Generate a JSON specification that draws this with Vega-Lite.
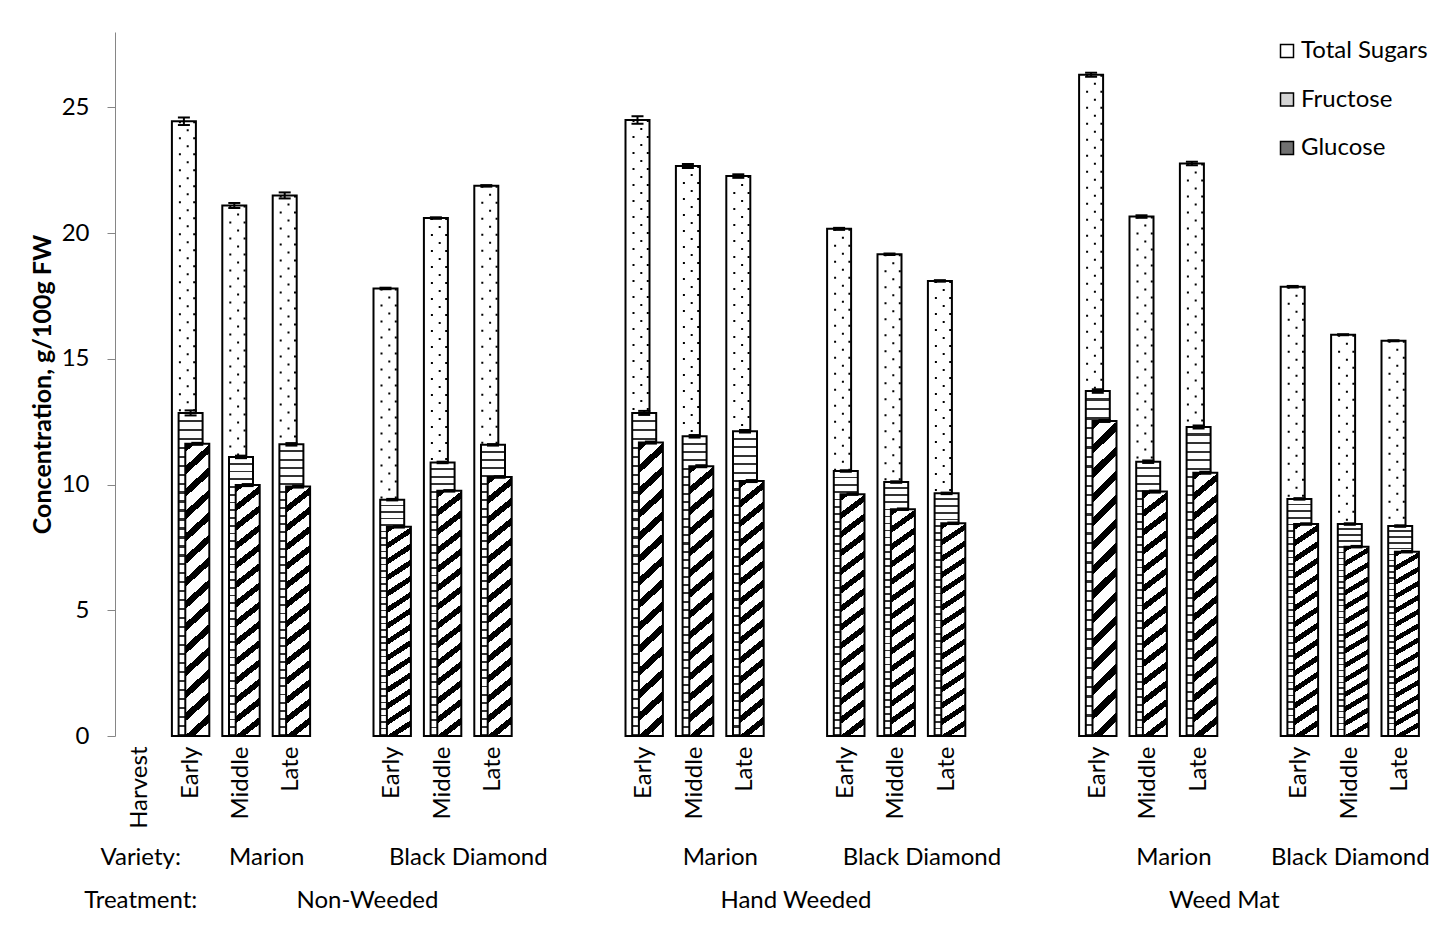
{
"$schema": "https://vega.github.io/schema/vega-lite/v6.json",
"autosize": {"type": "none"},
"width": 1310.4,
"height": 704,
"padding": {"left": 115, "top": 32, "right": 30.6, "bottom": 216},
"background": "#ffffff",
"config": {
  "view": {"stroke": null},
  "font": "Lato",
  "axis": {"labelFont": "Lato", "titleFont": "Lato", "labelColor": "#000000", "titleColor": "#000000"},
  "legend": {"labelFont": "Lato"}
},
"data": {"values": [
{"cat":"Non-Weeded|Marion|Early","series":"Total Sugars","value":24.45,"lo":24.3,"hi":24.6},
{"cat":"Non-Weeded|Marion|Early","series":"Fructose","value":12.85,"lo":12.75,"hi":12.95},
{"cat":"Non-Weeded|Marion|Early","series":"Glucose","value":11.62,"lo":11.58,"hi":11.66},
{"cat":"Non-Weeded|Marion|Middle","series":"Total Sugars","value":21.1,"lo":21.0,"hi":21.2},
{"cat":"Non-Weeded|Marion|Middle","series":"Fructose","value":11.1,"lo":11.05,"hi":11.15},
{"cat":"Non-Weeded|Marion|Middle","series":"Glucose","value":9.98,"lo":9.94,"hi":10.02},
{"cat":"Non-Weeded|Marion|Late","series":"Total Sugars","value":21.5,"lo":21.38,"hi":21.62},
{"cat":"Non-Weeded|Marion|Late","series":"Fructose","value":11.6,"lo":11.55,"hi":11.65},
{"cat":"Non-Weeded|Marion|Late","series":"Glucose","value":9.92,"lo":9.88,"hi":9.96},
{"cat":"Non-Weeded|Black Diamond|Early","series":"Total Sugars","value":17.8,"lo":17.77,"hi":17.83},
{"cat":"Non-Weeded|Black Diamond|Early","series":"Fructose","value":9.4,"lo":9.37,"hi":9.43},
{"cat":"Non-Weeded|Black Diamond|Early","series":"Glucose","value":8.32,"lo":8.29,"hi":8.35},
{"cat":"Non-Weeded|Black Diamond|Middle","series":"Total Sugars","value":20.6,"lo":20.57,"hi":20.63},
{"cat":"Non-Weeded|Black Diamond|Middle","series":"Fructose","value":10.88,"lo":10.85,"hi":10.91},
{"cat":"Non-Weeded|Black Diamond|Middle","series":"Glucose","value":9.75,"lo":9.72,"hi":9.78},
{"cat":"Non-Weeded|Black Diamond|Late","series":"Total Sugars","value":21.88,"lo":21.85,"hi":21.91},
{"cat":"Non-Weeded|Black Diamond|Late","series":"Fructose","value":11.58,"lo":11.55,"hi":11.61},
{"cat":"Non-Weeded|Black Diamond|Late","series":"Glucose","value":10.3,"lo":10.27,"hi":10.33},
{"cat":"Hand Weeded|Marion|Early","series":"Total Sugars","value":24.5,"lo":24.35,"hi":24.65},
{"cat":"Hand Weeded|Marion|Early","series":"Fructose","value":12.85,"lo":12.77,"hi":12.93},
{"cat":"Hand Weeded|Marion|Early","series":"Glucose","value":11.67,"lo":11.63,"hi":11.71},
{"cat":"Hand Weeded|Marion|Middle","series":"Total Sugars","value":22.67,"lo":22.59,"hi":22.75},
{"cat":"Hand Weeded|Marion|Middle","series":"Fructose","value":11.92,"lo":11.87,"hi":11.97},
{"cat":"Hand Weeded|Marion|Middle","series":"Glucose","value":10.73,"lo":10.69,"hi":10.77},
{"cat":"Hand Weeded|Marion|Late","series":"Total Sugars","value":22.27,"lo":22.2,"hi":22.34},
{"cat":"Hand Weeded|Marion|Late","series":"Fructose","value":12.12,"lo":12.07,"hi":12.17},
{"cat":"Hand Weeded|Marion|Late","series":"Glucose","value":10.14,"lo":10.1,"hi":10.18},
{"cat":"Hand Weeded|Black Diamond|Early","series":"Total Sugars","value":20.17,"lo":20.13,"hi":20.21},
{"cat":"Hand Weeded|Black Diamond|Early","series":"Fructose","value":10.54,"lo":10.51,"hi":10.57},
{"cat":"Hand Weeded|Black Diamond|Early","series":"Glucose","value":9.62,"lo":9.59,"hi":9.65},
{"cat":"Hand Weeded|Black Diamond|Middle","series":"Total Sugars","value":19.16,"lo":19.13,"hi":19.19},
{"cat":"Hand Weeded|Black Diamond|Middle","series":"Fructose","value":10.1,"lo":10.07,"hi":10.13},
{"cat":"Hand Weeded|Black Diamond|Middle","series":"Glucose","value":9.02,"lo":8.99,"hi":9.05},
{"cat":"Hand Weeded|Black Diamond|Late","series":"Total Sugars","value":18.1,"lo":18.07,"hi":18.13},
{"cat":"Hand Weeded|Black Diamond|Late","series":"Fructose","value":9.65,"lo":9.62,"hi":9.68},
{"cat":"Hand Weeded|Black Diamond|Late","series":"Glucose","value":8.46,"lo":8.43,"hi":8.49},
{"cat":"Weed Mat|Marion|Early","series":"Total Sugars","value":26.3,"lo":26.22,"hi":26.38},
{"cat":"Weed Mat|Marion|Early","series":"Fructose","value":13.72,"lo":13.65,"hi":13.79},
{"cat":"Weed Mat|Marion|Early","series":"Glucose","value":12.53,"lo":12.49,"hi":12.57},
{"cat":"Weed Mat|Marion|Middle","series":"Total Sugars","value":20.66,"lo":20.61,"hi":20.71},
{"cat":"Weed Mat|Marion|Middle","series":"Fructose","value":10.91,"lo":10.86,"hi":10.96},
{"cat":"Weed Mat|Marion|Middle","series":"Glucose","value":9.72,"lo":9.68,"hi":9.76},
{"cat":"Weed Mat|Marion|Late","series":"Total Sugars","value":22.77,"lo":22.7,"hi":22.84},
{"cat":"Weed Mat|Marion|Late","series":"Fructose","value":12.29,"lo":12.23,"hi":12.35},
{"cat":"Weed Mat|Marion|Late","series":"Glucose","value":10.47,"lo":10.43,"hi":10.51},
{"cat":"Weed Mat|Black Diamond|Early","series":"Total Sugars","value":17.87,"lo":17.84,"hi":17.9},
{"cat":"Weed Mat|Black Diamond|Early","series":"Fructose","value":9.43,"lo":9.4,"hi":9.46},
{"cat":"Weed Mat|Black Diamond|Early","series":"Glucose","value":8.43,"lo":8.4,"hi":8.46},
{"cat":"Weed Mat|Black Diamond|Middle","series":"Total Sugars","value":15.96,"lo":15.94,"hi":15.98},
{"cat":"Weed Mat|Black Diamond|Middle","series":"Fructose","value":8.43,"lo":8.4,"hi":8.46},
{"cat":"Weed Mat|Black Diamond|Middle","series":"Glucose","value":7.53,"lo":7.5,"hi":7.56},
{"cat":"Weed Mat|Black Diamond|Late","series":"Total Sugars","value":15.72,"lo":15.7,"hi":15.74},
{"cat":"Weed Mat|Black Diamond|Late","series":"Fructose","value":8.35,"lo":8.32,"hi":8.38},
{"cat":"Weed Mat|Black Diamond|Late","series":"Glucose","value":7.33,"lo":7.3,"hi":7.36}
]},
"layer": [
{
  "encoding": {
    "x": {"field": "cat", "type": "nominal",
      "scale": {"domain": ["||Harvest","Non-Weeded|Marion|Early","Non-Weeded|Marion|Middle","Non-Weeded|Marion|Late","Non-Weeded|Marion|","Non-Weeded|Black Diamond|Early","Non-Weeded|Black Diamond|Middle","Non-Weeded|Black Diamond|Late","Non-Weeded|Black Diamond|","Hand Weeded||","Hand Weeded|Marion|Early","Hand Weeded|Marion|Middle","Hand Weeded|Marion|Late","Hand Weeded|Marion|","Hand Weeded|Black Diamond|Early","Hand Weeded|Black Diamond|Middle","Hand Weeded|Black Diamond|Late","Hand Weeded|Black Diamond|","Weed Mat||","Weed Mat|Marion|Early","Weed Mat|Marion|Middle","Weed Mat|Marion|Late","Weed Mat|Marion|","Weed Mat|Black Diamond|Early","Weed Mat|Black Diamond|Middle","Weed Mat|Black Diamond|Late"], "paddingInner": 0, "paddingOuter": 0},
      "axis": {"title": null, "orient": "bottom", "domain": false, "ticks": false, "grid": false, "labelAngle": -90, "labelPadding": 10, "labelFontSize": 24, "labelOverlap": false, "labelLimit": 0, "labelExpr": "split(datum.value, '|')[2]"}
    }
  },
  "layer": [
    {
      "transform": [{"filter": "datum.series == 'Total Sugars'"}],
      "mark": {"type": "bar", "width": 24, "xOffset": -6.7, "stroke": "#000000", "strokeWidth": 2},
      "encoding": {
        "y": {"field": "value", "type": "quantitative", "title": "Concentration, g/100g FW",
          "scale": {"domain": [0, 28], "nice": false, "zero": true},
          "axis": {"values": [0,5,10,15,20,25], "grid": false, "domainColor": "#868686", "domainWidth": 1, "tickColor": "#868686", "tickSize": 8, "tickWidth": 1, "labelFontSize": 24, "labelPadding": 18, "titleFontSize": 25, "titleFontWeight": "bold", "titleX": -65, "titleY": 352, "titleAngle": -90, "titleAlign": "center", "titleBaseline": "alphabetic"}},
        "fill": {"field": "series", "type": "nominal",
          "scale": {"domain": ["Total Sugars", "Fructose", "Glucose"], "range": ["#ffffff", "#d4d4d4", "#707070"]},
          "legend": {"title": null, "orient": "none", "legendX": 1160, "legendY": 7, "padding": 0, "symbolType": "square", "symbolSize": 169, "symbolStrokeColor": "#000000", "symbolStrokeWidth": 1.5, "labelFontSize": 24, "labelColor": "#000000", "labelOffset": 2, "rowPadding": 24.5, "labelLimit": 0}}
      }
    },
    {
      "transform": [{"filter": "datum.series == 'Total Sugars'"}],
      "mark": {"type": "rule", "xOffset": -10.7, "strokeDash": [2, 14], "strokeWidth": 2, "color": "#000000"},
      "encoding": {"y": {"field": "value", "type": "quantitative", "title": "Concentration, g/100g FW"}, "y2": {"datum": 0}}
    },
    {
      "transform": [{"filter": "datum.series == 'Total Sugars'"}],
      "mark": {"type": "rule", "xOffset": -2.9, "strokeDash": [2, 14], "strokeDashOffset": 8, "strokeWidth": 2, "color": "#000000"},
      "encoding": {"y": {"field": "value", "type": "quantitative", "title": "Concentration, g/100g FW"}, "y2": {"datum": 0}}
    },
    {
      "transform": [{"filter": "datum.series == 'Total Sugars'"}],
      "mark": {"type": "rule", "xOffset": 3.6, "strokeDash": [2, 14], "strokeWidth": 2, "color": "#000000"},
      "encoding": {"y": {"field": "value", "type": "quantitative", "title": "Concentration, g/100g FW"}, "y2": {"datum": 0}}
    },
    {
      "transform": [{"filter": "datum.series == 'Total Sugars'"}],
      "mark": {"type": "rule", "xOffset": -6.7, "strokeWidth": 2, "color": "#000000"},
      "encoding": {"y": {"field": "lo", "type": "quantitative", "title": "Concentration, g/100g FW"}, "y2": {"field": "hi"}}
    },
    {
      "transform": [{"filter": "datum.series == 'Total Sugars'"}],
      "mark": {"type": "tick", "xOffset": -6.7, "thickness": 2, "size": 12, "color": "#000000", "opacity": 1},
      "encoding": {"y": {"field": "lo", "type": "quantitative", "title": "Concentration, g/100g FW"}}
    },
    {
      "transform": [{"filter": "datum.series == 'Total Sugars'"}],
      "mark": {"type": "tick", "xOffset": -6.7, "thickness": 2, "size": 12, "color": "#000000", "opacity": 1},
      "encoding": {"y": {"field": "hi", "type": "quantitative", "title": "Concentration, g/100g FW"}}
    },
    {
      "transform": [{"filter": "datum.series == 'Fructose'"}],
      "mark": {"type": "bar", "width": 24, "xOffset": 0, "stroke": "#000000", "strokeWidth": 2,
        "fill": {"gradient": "linear", "x1": 0, "y1": 0, "x2": 0, "y2": 1, "stops": [
{"offset":0,"color":"#ffffff"},{"offset":0.021,"color":"#ffffff"},{"offset":0.021,"color":"#333333"},{"offset":0.02778,"color":"#333333"},
{"offset":0.02778,"color":"#ffffff"},{"offset":0.04878,"color":"#ffffff"},{"offset":0.04878,"color":"#333333"},{"offset":0.05556,"color":"#333333"},
{"offset":0.05556,"color":"#ffffff"},{"offset":0.07656,"color":"#ffffff"},{"offset":0.07656,"color":"#333333"},{"offset":0.08333,"color":"#333333"},
{"offset":0.08333,"color":"#ffffff"},{"offset":0.10433,"color":"#ffffff"},{"offset":0.10433,"color":"#333333"},{"offset":0.11111,"color":"#333333"},
{"offset":0.11111,"color":"#ffffff"},{"offset":0.13211,"color":"#ffffff"},{"offset":0.13211,"color":"#333333"},{"offset":0.13889,"color":"#333333"},
{"offset":0.13889,"color":"#ffffff"},{"offset":0.15989,"color":"#ffffff"},{"offset":0.15989,"color":"#333333"},{"offset":0.16667,"color":"#333333"},
{"offset":0.16667,"color":"#ffffff"},{"offset":0.18767,"color":"#ffffff"},{"offset":0.18767,"color":"#333333"},{"offset":0.19444,"color":"#333333"},
{"offset":0.19444,"color":"#ffffff"},{"offset":0.21544,"color":"#ffffff"},{"offset":0.21544,"color":"#333333"},{"offset":0.22222,"color":"#333333"},
{"offset":0.22222,"color":"#ffffff"},{"offset":0.24322,"color":"#ffffff"},{"offset":0.24322,"color":"#333333"},{"offset":0.25,"color":"#333333"},
{"offset":0.25,"color":"#ffffff"},{"offset":0.271,"color":"#ffffff"},{"offset":0.271,"color":"#333333"},{"offset":0.27778,"color":"#333333"},
{"offset":0.27778,"color":"#ffffff"},{"offset":0.29878,"color":"#ffffff"},{"offset":0.29878,"color":"#333333"},{"offset":0.30556,"color":"#333333"},
{"offset":0.30556,"color":"#ffffff"},{"offset":0.32656,"color":"#ffffff"},{"offset":0.32656,"color":"#333333"},{"offset":0.33333,"color":"#333333"},
{"offset":0.33333,"color":"#ffffff"},{"offset":0.35433,"color":"#ffffff"},{"offset":0.35433,"color":"#333333"},{"offset":0.36111,"color":"#333333"},
{"offset":0.36111,"color":"#ffffff"},{"offset":0.38211,"color":"#ffffff"},{"offset":0.38211,"color":"#333333"},{"offset":0.38889,"color":"#333333"},
{"offset":0.38889,"color":"#ffffff"},{"offset":0.40989,"color":"#ffffff"},{"offset":0.40989,"color":"#333333"},{"offset":0.41667,"color":"#333333"},
{"offset":0.41667,"color":"#ffffff"},{"offset":0.43767,"color":"#ffffff"},{"offset":0.43767,"color":"#333333"},{"offset":0.44444,"color":"#333333"},
{"offset":0.44444,"color":"#ffffff"},{"offset":0.46544,"color":"#ffffff"},{"offset":0.46544,"color":"#333333"},{"offset":0.47222,"color":"#333333"},
{"offset":0.47222,"color":"#ffffff"},{"offset":0.49322,"color":"#ffffff"},{"offset":0.49322,"color":"#333333"},{"offset":0.5,"color":"#333333"},
{"offset":0.5,"color":"#ffffff"},{"offset":0.521,"color":"#ffffff"},{"offset":0.521,"color":"#333333"},{"offset":0.52778,"color":"#333333"},
{"offset":0.52778,"color":"#ffffff"},{"offset":0.54878,"color":"#ffffff"},{"offset":0.54878,"color":"#333333"},{"offset":0.55556,"color":"#333333"},
{"offset":0.55556,"color":"#ffffff"},{"offset":0.57656,"color":"#ffffff"},{"offset":0.57656,"color":"#333333"},{"offset":0.58333,"color":"#333333"},
{"offset":0.58333,"color":"#ffffff"},{"offset":0.60433,"color":"#ffffff"},{"offset":0.60433,"color":"#333333"},{"offset":0.61111,"color":"#333333"},
{"offset":0.61111,"color":"#ffffff"},{"offset":0.63211,"color":"#ffffff"},{"offset":0.63211,"color":"#333333"},{"offset":0.63889,"color":"#333333"},
{"offset":0.63889,"color":"#ffffff"},{"offset":0.65989,"color":"#ffffff"},{"offset":0.65989,"color":"#333333"},{"offset":0.66667,"color":"#333333"},
{"offset":0.66667,"color":"#ffffff"},{"offset":0.68767,"color":"#ffffff"},{"offset":0.68767,"color":"#333333"},{"offset":0.69444,"color":"#333333"},
{"offset":0.69444,"color":"#ffffff"},{"offset":0.71544,"color":"#ffffff"},{"offset":0.71544,"color":"#333333"},{"offset":0.72222,"color":"#333333"},
{"offset":0.72222,"color":"#ffffff"},{"offset":0.74322,"color":"#ffffff"},{"offset":0.74322,"color":"#333333"},{"offset":0.75,"color":"#333333"},
{"offset":0.75,"color":"#ffffff"},{"offset":0.771,"color":"#ffffff"},{"offset":0.771,"color":"#333333"},{"offset":0.77778,"color":"#333333"},
{"offset":0.77778,"color":"#ffffff"},{"offset":0.79878,"color":"#ffffff"},{"offset":0.79878,"color":"#333333"},{"offset":0.80556,"color":"#333333"},
{"offset":0.80556,"color":"#ffffff"},{"offset":0.82656,"color":"#ffffff"},{"offset":0.82656,"color":"#333333"},{"offset":0.83333,"color":"#333333"},
{"offset":0.83333,"color":"#ffffff"},{"offset":0.85433,"color":"#ffffff"},{"offset":0.85433,"color":"#333333"},{"offset":0.86111,"color":"#333333"},
{"offset":0.86111,"color":"#ffffff"},{"offset":0.88211,"color":"#ffffff"},{"offset":0.88211,"color":"#333333"},{"offset":0.88889,"color":"#333333"},
{"offset":0.88889,"color":"#ffffff"},{"offset":0.90989,"color":"#ffffff"},{"offset":0.90989,"color":"#333333"},{"offset":0.91667,"color":"#333333"},
{"offset":0.91667,"color":"#ffffff"},{"offset":0.93767,"color":"#ffffff"},{"offset":0.93767,"color":"#333333"},{"offset":0.94444,"color":"#333333"},
{"offset":0.94444,"color":"#ffffff"},{"offset":0.96544,"color":"#ffffff"},{"offset":0.96544,"color":"#333333"},{"offset":0.97222,"color":"#333333"},
{"offset":0.97222,"color":"#ffffff"},{"offset":0.99322,"color":"#ffffff"},{"offset":0.99322,"color":"#333333"},{"offset":1,"color":"#333333"}
        ]}},
      "encoding": {"y": {"field": "value", "type": "quantitative", "title": "Concentration, g/100g FW"}}
    },
    {
      "transform": [{"filter": "datum.series == 'Fructose'"}],
      "mark": {"type": "rule", "xOffset": 0, "strokeWidth": 2, "color": "#000000"},
      "encoding": {"y": {"field": "lo", "type": "quantitative", "title": "Concentration, g/100g FW"}, "y2": {"field": "hi"}}
    },
    {
      "transform": [{"filter": "datum.series == 'Fructose'"}],
      "mark": {"type": "tick", "xOffset": 0, "thickness": 2, "size": 12, "color": "#000000", "opacity": 1},
      "encoding": {"y": {"field": "lo", "type": "quantitative", "title": "Concentration, g/100g FW"}}
    },
    {
      "transform": [{"filter": "datum.series == 'Fructose'"}],
      "mark": {"type": "tick", "xOffset": 0, "thickness": 2, "size": 12, "color": "#000000", "opacity": 1},
      "encoding": {"y": {"field": "hi", "type": "quantitative", "title": "Concentration, g/100g FW"}}
    },
    {
      "transform": [{"filter": "datum.series == 'Glucose'"}],
      "mark": {"type": "bar", "width": 24, "xOffset": 6.7, "stroke": "#000000", "strokeWidth": 2,
        "fill": {"gradient": "linear", "x1": 0, "y1": 0, "x2": 0.0802, "y2": 1.069, "stops": [
{"offset":0,"color":"#000000"},{"offset":0.02714,"color":"#000000"},{"offset":0.02714,"color":"#ffffff"},{"offset":0.07143,"color":"#ffffff"},
{"offset":0.07143,"color":"#000000"},{"offset":0.09857,"color":"#000000"},{"offset":0.09857,"color":"#ffffff"},{"offset":0.14286,"color":"#ffffff"},
{"offset":0.14286,"color":"#000000"},{"offset":0.17,"color":"#000000"},{"offset":0.17,"color":"#ffffff"},{"offset":0.21429,"color":"#ffffff"},
{"offset":0.21429,"color":"#000000"},{"offset":0.24143,"color":"#000000"},{"offset":0.24143,"color":"#ffffff"},{"offset":0.28571,"color":"#ffffff"},
{"offset":0.28571,"color":"#000000"},{"offset":0.31286,"color":"#000000"},{"offset":0.31286,"color":"#ffffff"},{"offset":0.35714,"color":"#ffffff"},
{"offset":0.35714,"color":"#000000"},{"offset":0.38429,"color":"#000000"},{"offset":0.38429,"color":"#ffffff"},{"offset":0.42857,"color":"#ffffff"},
{"offset":0.42857,"color":"#000000"},{"offset":0.45571,"color":"#000000"},{"offset":0.45571,"color":"#ffffff"},{"offset":0.5,"color":"#ffffff"},
{"offset":0.5,"color":"#000000"},{"offset":0.52714,"color":"#000000"},{"offset":0.52714,"color":"#ffffff"},{"offset":0.57143,"color":"#ffffff"},
{"offset":0.57143,"color":"#000000"},{"offset":0.59857,"color":"#000000"},{"offset":0.59857,"color":"#ffffff"},{"offset":0.64286,"color":"#ffffff"},
{"offset":0.64286,"color":"#000000"},{"offset":0.67,"color":"#000000"},{"offset":0.67,"color":"#ffffff"},{"offset":0.71429,"color":"#ffffff"},
{"offset":0.71429,"color":"#000000"},{"offset":0.74143,"color":"#000000"},{"offset":0.74143,"color":"#ffffff"},{"offset":0.78571,"color":"#ffffff"},
{"offset":0.78571,"color":"#000000"},{"offset":0.81286,"color":"#000000"},{"offset":0.81286,"color":"#ffffff"},{"offset":0.85714,"color":"#ffffff"},
{"offset":0.85714,"color":"#000000"},{"offset":0.88429,"color":"#000000"},{"offset":0.88429,"color":"#ffffff"},{"offset":0.92857,"color":"#ffffff"},
{"offset":0.92857,"color":"#000000"},{"offset":0.95571,"color":"#000000"},{"offset":0.95571,"color":"#ffffff"},{"offset":1,"color":"#ffffff"}
        ]}},
      "encoding": {"y": {"field": "value", "type": "quantitative", "title": "Concentration, g/100g FW"}}
    },
    {
      "transform": [{"filter": "datum.series == 'Glucose'"}],
      "mark": {"type": "rule", "xOffset": 6.7, "strokeWidth": 2, "color": "#000000"},
      "encoding": {"y": {"field": "lo", "type": "quantitative", "title": "Concentration, g/100g FW"}, "y2": {"field": "hi"}}
    },
    {
      "transform": [{"filter": "datum.series == 'Glucose'"}],
      "mark": {"type": "tick", "xOffset": 6.7, "thickness": 2, "size": 12, "color": "#000000", "opacity": 1},
      "encoding": {"y": {"field": "lo", "type": "quantitative", "title": "Concentration, g/100g FW"}}
    },
    {
      "transform": [{"filter": "datum.series == 'Glucose'"}],
      "mark": {"type": "tick", "xOffset": 6.7, "thickness": 2, "size": 12, "color": "#000000", "opacity": 1},
      "encoding": {"y": {"field": "hi", "type": "quantitative", "title": "Concentration, g/100g FW"}}
    }
  ]
},
{
  "mark": {"type": "text"},
  "encoding": {
    "x": {"field": "cat", "type": "nominal",
      "scale": {"domain": ["||Harvest","Non-Weeded|Marion|Early","Non-Weeded|Marion|Middle","Non-Weeded|Marion|Late","Non-Weeded|Marion|","Non-Weeded|Black Diamond|Early","Non-Weeded|Black Diamond|Middle","Non-Weeded|Black Diamond|Late","Non-Weeded|Black Diamond|","Hand Weeded||","Hand Weeded|Marion|Early","Hand Weeded|Marion|Middle","Hand Weeded|Marion|Late","Hand Weeded|Marion|","Hand Weeded|Black Diamond|Early","Hand Weeded|Black Diamond|Middle","Hand Weeded|Black Diamond|Late","Hand Weeded|Black Diamond|","Weed Mat||","Weed Mat|Marion|Early","Weed Mat|Marion|Middle","Weed Mat|Marion|Late","Weed Mat|Marion|","Weed Mat|Black Diamond|Early","Weed Mat|Black Diamond|Middle","Weed Mat|Black Diamond|Late"], "paddingInner": 0, "paddingOuter": 0},
      "axis": {"title": null, "orient": "bottom", "offset": 121, "domain": false, "ticks": false, "grid": false, "labelAngle": 0, "labelAlign": "center", "labelBaseline": "middle", "labelPadding": 0, "labelFontSize": 24, "labelOverlap": false, "labelLimit": 0,
        "labelOffset": {"condition": {"test": "datum.value == '||Harvest' || datum.value == 'Weed Mat|Black Diamond|Middle'", "value": 0}, "value": 25.2},
        "labelExpr": "datum.value == '||Harvest' ? 'Variety:' : (split(datum.value, '|')[2] == 'Middle' ? split(datum.value, '|')[1] : '')"}
    },
    "text": {"value": ""}
  }
},
{
  "mark": {"type": "text"},
  "encoding": {
    "x": {"field": "cat", "type": "nominal",
      "scale": {"domain": ["||Harvest","Non-Weeded|Marion|Early","Non-Weeded|Marion|Middle","Non-Weeded|Marion|Late","Non-Weeded|Marion|","Non-Weeded|Black Diamond|Early","Non-Weeded|Black Diamond|Middle","Non-Weeded|Black Diamond|Late","Non-Weeded|Black Diamond|","Hand Weeded||","Hand Weeded|Marion|Early","Hand Weeded|Marion|Middle","Hand Weeded|Marion|Late","Hand Weeded|Marion|","Hand Weeded|Black Diamond|Early","Hand Weeded|Black Diamond|Middle","Hand Weeded|Black Diamond|Late","Hand Weeded|Black Diamond|","Weed Mat||","Weed Mat|Marion|Early","Weed Mat|Marion|Middle","Weed Mat|Marion|Late","Weed Mat|Marion|","Weed Mat|Black Diamond|Early","Weed Mat|Black Diamond|Middle","Weed Mat|Black Diamond|Late"], "paddingInner": 0, "paddingOuter": 0},
      "axis": {"title": null, "orient": "bottom", "offset": 164, "domain": false, "ticks": false, "grid": false, "labelAngle": 0, "labelAlign": "center", "labelBaseline": "middle", "labelPadding": 0, "labelFontSize": 24, "labelOverlap": false, "labelLimit": 0,
        "labelOffset": {"condition": {"test": "datum.value == '||Harvest' || datum.value == 'Hand Weeded|Marion|'", "value": 0}, "value": 25.2},
        "labelExpr": "datum.value == '||Harvest' ? 'Treatment:' : datum.value == 'Non-Weeded|Marion|' ? 'Non-Weeded' : datum.value == 'Hand Weeded|Marion|' ? 'Hand Weeded' : datum.value == 'Weed Mat|Marion|Late' ? 'Weed Mat' : ''"}
    },
    "text": {"value": ""}
  }
}
],
"resolve": {"scale": {"x": "independent"}, "axis": {"x": "independent"}}
}
